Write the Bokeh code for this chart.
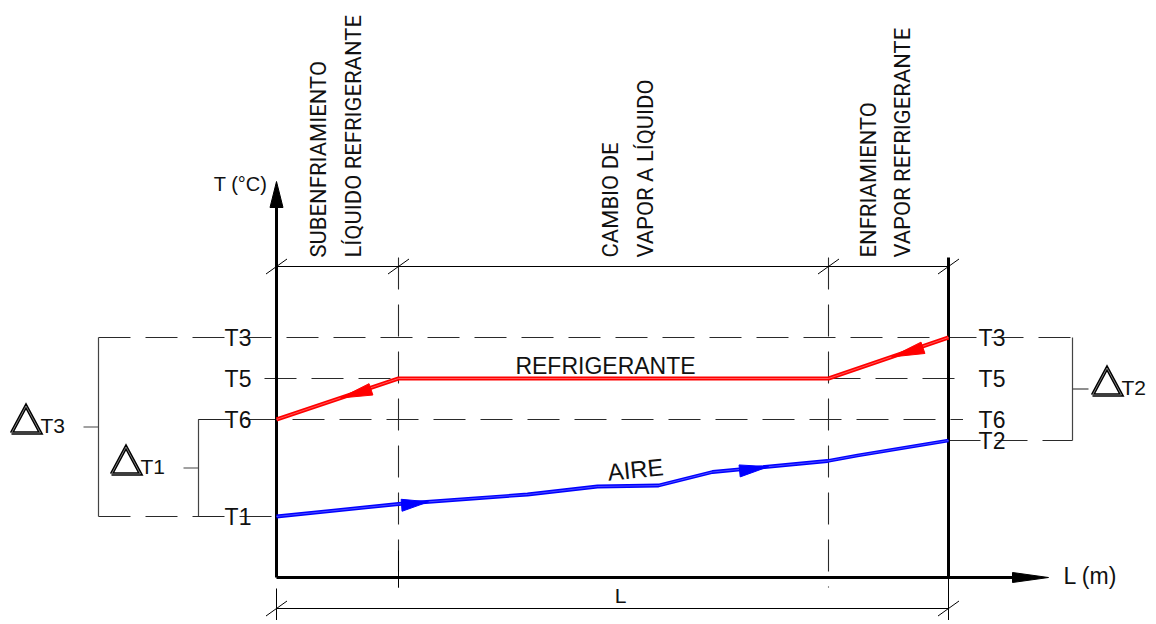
import numpy as np
from bokeh.plotting import figure
from bokeh.core.properties import value
from bokeh.embed import file_html
from bokeh.resources import INLINE

# ---------------- data ----------------
zone_bounds = [0, 122, 552, 672]          # L: origin, end subcooling, end condensation, L
level_names = ["T1", "T2", "T6", "T5", "T3"]
level_temps = [61, 137, 158, 199, 240]
refrig_L = [0, 122, 552, 672]
refrig_T = [158, 199, 199, 240]
air_L = [0, 122, 251, 321, 382, 436, 551, 581, 672]
air_T = [61, 73.5, 83, 91, 92, 105.5, 116.5, 122, 137]
zone_titles = [["SUBENFRIAMIENTO", "LÍQUIDO REFRIGERANTE"],
               ["CAMBIO DE", "VAPOR A LÍQUIDO"],
               ["ENFRIAMIENTO", "VAPOR REFRIGERANTE"]]
left_labels = ["T3", "T5", "T6", "T1"]
right_labels = ["T3", "T5", "T6", "T2"]
delta_names = ["T3", "T1", "T2"]
delta_spans = [("T1", "T3"), ("T1", "T6"), ("T2", "T3")]
refrig_arrows = [(64, 94), (615, 646)]     # (tip L, base L)
air_arrows = [(152, 125), (492, 463)]

T = dict(zip(level_names, level_temps))

# ---------------- layout ----------------
title_cols = [[42, 77], [334, 369], [592, 626]]
title_bottom = 320
bracket_x = [-178, -78, 796]
dim_top = 311
dim_bot = -31
LBL_L = -38.5
LBL_R = 714.5
Lend = zone_bounds[-1]

p = figure(width=1152, height=620, x_range=(-276, 876), y_range=(-43, 577),
           output_backend="svg", toolbar_location=None,
           x_axis_location=None, y_axis_location=None, min_border=0)
p.grid.visible = False
p.outline_line_color = None
p.background_fill_color = "white"

DASH = "32 15"
GRAY = "#2a2a2a"
FONT = value("Liberation Sans")
COND = value("Roboto")

# horizontal dashed level lines
p.line([bracket_x[0], bracket_x[2]], [T["T3"]] * 2, line_color=GRAY, line_dash=DASH, line_width=1.1)
p.line([-12, LBL_R - 28], [T["T5"]] * 2, line_color=GRAY, line_dash=DASH, line_width=1.1)
p.line([bracket_x[1], LBL_R - 28], [T["T6"]] * 2, line_color=GRAY, line_dash=DASH, line_width=1.1)
p.line([bracket_x[0], 0], [T["T1"]] * 2, line_color=GRAY, line_dash=DASH, line_width=1.1)
p.line([Lend, bracket_x[2]], [T["T2"]] * 2, line_color=GRAY, line_dash=DASH, line_width=1.1)

# vertical dashed zone boundaries
for zb in zone_bounds[1:-1]:
    p.line([zb, zb], [title_bottom, -10], line_color=GRAY, line_dash=DASH, line_width=1.1)

# brackets for delta T
for bx, (a, b), name in zip(bracket_x, delta_spans, delta_names):
    p.line([bx, bx], [T[a], T[b]], line_color="#444444", line_width=1.2)
    mid = (T[a] + T[b]) / 2
    if bx > 0:
        p.line([bx, bx + 16], [mid, mid], line_color="#444444", line_width=1.2)
        x0 = bx + 20
    else:
        p.line([bx - 15, bx], [mid, mid], line_color="#444444", line_width=1.2)
        x0 = bx - 87
    if name == "T1":
        p.line([bx, bx + 22], [T[a], T[a]], line_color="#222222", line_width=1.2)
        p.line([bx, bx + 22], [T[b], T[b]], line_color="#222222", line_width=1.2)
    yb = mid - 6
    tx = [x0, x0 + 14.5, x0 + 29, x0]
    ty = [yb, yb + 27, yb, yb]
    p.line(tx, ty, line_color="black", line_width=3.6, line_join="miter")
    p.line(tx, ty, line_color="#9a9a9a", line_width=0.8, line_join="miter")
    p.text([x0 + 29], [yb + 8], text=[name], text_font=FONT, text_font_size="21px",
           text_align="left", text_baseline="middle", text_color="#111111")

# axes
p.line([0, 0], [0, 372], line_color="black", line_width=3)
p.patch([-6.5, 0, 6.5], [370, 396, 370], color="black")
p.line([0, 738], [0, 0], line_color="black", line_width=3)
p.patch([736, 772, 736], [5, 0, -5], color="black")
p.line([Lend, Lend], [title_bottom, 0], line_color="black", line_width=3)
p.line([Lend, Lend], [0, -43], line_color="black", line_width=1)
p.line([0, 0], [-11, -43], line_color="black", line_width=1)
p.line([zone_bounds[1]] * 2, [-10, 27], line_color="black", line_width=1)

# dimension lines
p.line([0, Lend], [dim_top, dim_top], line_color="black", line_width=1.2)
for zb in zone_bounds:
    p.line([zb - 10.5, zb + 10.5], [dim_top - 7.5, dim_top + 7.5], line_color="black", line_width=1)
p.line([0, Lend], [dim_bot, dim_bot], line_color="black", line_width=1.2)
for zb in (zone_bounds[0], zone_bounds[-1]):
    p.line([zb - 10.5, zb + 10.5], [dim_bot - 7.5, dim_bot + 7.5], line_color="black", line_width=1)
p.text([Lend / 2 + 8], [dim_bot + 13], text=["L"], text_font=FONT, text_font_size="21px",
       text_align="center", text_baseline="middle", text_color="#111111")

# refrigerant and air curves
p.line(refrig_L, refrig_T, line_color="#ff0000", line_width=4)
p.line(refrig_L, refrig_T, line_color="#ff7070", line_width=0.8)
p.line(air_L, air_T, line_color="#0000ff", line_width=3.8)
p.line(air_L, air_T, line_color="#6060ff", line_width=0.8)


def arrowhead(xs, ys, tip, base, up=4.5, down=7.5):
    ty = np.interp(tip, xs, ys)
    by = np.interp(base, xs, ys)
    dx, dy = tip - base, ty - by
    n = np.hypot(dx, dy)
    px, py = -dy / n, dx / n
    if py < 0:
        px, py = -px, -py
    return [tip, base + px * up, base - px * down], [ty, by + py * up, by - py * down]


for tip, base in refrig_arrows:
    ax, ay = arrowhead(refrig_L, refrig_T, tip, base)
    p.patch(ax, ay, color="#ff0000")
for tip, base in air_arrows:
    ax, ay = arrowhead(air_L, air_T, tip, base)
    p.patch(ax, ay, color="#0000ff")

# level labels
p.text([LBL_L] * 4, [T[n] for n in left_labels], text=left_labels, text_font=FONT,
       text_font_size="23px", text_align="center", text_baseline="middle", text_color="#111111")
p.text([LBL_R + 1] * 4, [T[n] for n in right_labels], text=right_labels, text_font=FONT,
       text_font_size="23px", text_align="center", text_baseline="middle", text_color="#111111")

# curve labels
p.text([329], [212], text=["REFRIGERANTE"], text_font=FONT, text_font_size="23px",
       text_align="center", text_baseline="middle", text_color="#111111")
p.text([359], [108], text=["AIRE"], text_font=FONT, text_font_size="24px", angle=0.1,
       text_align="center", text_baseline="middle", text_color="#111111")

# zone titles (vertical)
for cols, lines in zip(title_cols, zone_titles):
    p.text(cols, [title_bottom] * 2, text=lines, text_font=COND, text_font_size="22px",
           angle=np.pi / 2, text_align="left", text_baseline="middle", text_color="#111111")

# axis titles
p.text([-36], [394], text=["T (°C)"], text_font=FONT, text_font_size="20px",
       text_align="center", text_baseline="middle", text_color="#111111")
p.text([787], [2], text=["L (m)"], text_font=FONT, text_font_size="23px",
       text_align="left", text_baseline="middle", text_color="#111111")

open("out.html", "w").write(file_html(p, INLINE))
